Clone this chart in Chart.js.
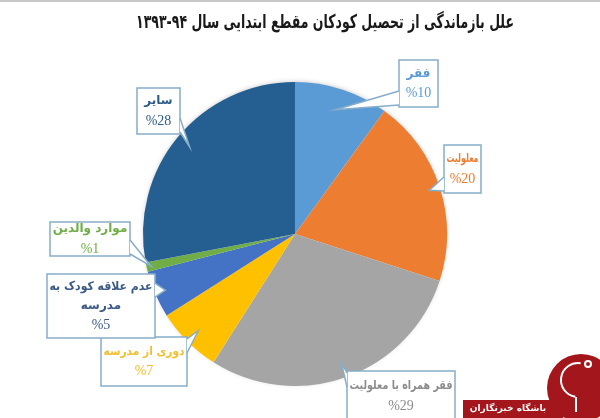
<!DOCTYPE html>
<html lang="fa">
<head>
<meta charset="utf-8">
<script src="https://cdn.jsdelivr.net/npm/chart.js@4/dist/chart.umd.min.js"></script>
<style>
  html, body { margin: 0; padding: 0; background: #fff; }
  #wrap { width: 600px; height: 418px; position: relative; border-top: 2px solid #c8c8c8; box-sizing: border-box; }
  canvas { display: block; }
</style>
</head>
<body>
<div id="wrap"><canvas id="pie" width="600" height="416"></canvas></div>
<script>
// ── Daten ───────────────────────────────────────────────────────────────────
// Zahlenfolge bewusst so: im RTL-Kontext wird "۹۴-۱۳۹۳" als ۱۳۹۳-۹۴ angezeigt.
const TITLE = 'علل بازماندگی از تحصیل کودکان مقطع ابتدایی سال ۹۴-۱۳۹۳';
const LABELS = ['فقر', 'معلولیت', 'فقر همراه با معلولیت', 'دوری از مدرسه',
                'عدم علاقه کودک به مدرسه', 'موارد والدین', 'سایر'];
const VALUES = [10, 20, 29, 7, 5, 1, 28];
const COLORS = ['#5b9bd5', '#ed7d31', '#a5a5a5', '#ffc000', '#4472c4', '#70ad47', '#255e91'];
const TEXT_COLORS = ['#5b9bd5', '#ed7d31', '#8c8c8c', '#f0c030', '#3c5a86', '#70ad47', '#2e5c8a'];
// Zeilen im Kasten (Beschriftung kann umbrechen)
const LINES = [['فقر'], ['معلولیت'], ['فقر همراه با معلولیت'], ['دوری از مدرسه'],
               ['عدم علاقه کودک به', 'مدرسه'], ['موارد والدین'], ['سایر']];

// ── Layout der Beschriftungskaesten (x, y, w, h, Spitzenradius) ─────────────
const BOXES = [
  [399, 58, 39, 47, 0.86],
  [444, 143, 37, 48, 0.93],
  [347, 369, 108, 50, 0.9],
  [101, 335, 86, 49, 0.9],
  [47, 272, 108, 64, 0.93],
  [50, 220, 80, 34, 0.97],
  [137, 86, 43, 46, 0.9],
];

const callouts = {
  id: 'callouts',
  afterDatasetsDraw(ch) {
    const { ctx } = ch;
    const meta = ch.getDatasetMeta(0);
    meta.data.forEach((arc, i) => {
      const [bx, by, bw, bh, rf] = BOXES[i];
      const mid = (arc.startAngle + arc.endAngle) / 2;
      const tx = arc.x + Math.cos(mid) * arc.outerRadius * rf;
      const ty = arc.y + Math.sin(mid) * arc.outerRadius * rf;
      // Basis der Spitze: naechster Punkt auf dem Kastenrand
      const cx = Math.min(Math.max(tx, bx), bx + bw);
      const cy = Math.min(Math.max(ty, by), by + bh);
      const dl = Math.abs(cx - bx), dr = Math.abs(cx - bx - bw), dt = Math.abs(cy - by), db = Math.abs(cy - by - bh);
      const m = Math.min(dl, dr, dt, db);
      let b1, b2;
      const hw = 7;
      if (m === dl || m === dr) {
        const x = m === dl ? bx : bx + bw;
        const y = Math.min(Math.max(cy, by + hw + 2), by + bh - hw - 2);
        b1 = [x, y - hw]; b2 = [x, y + hw];
      } else {
        const y = m === dt ? by : by + bh;
        const x = Math.min(Math.max(cx, bx + hw + 2), bx + bw - hw - 2);
        b1 = [x - hw, y]; b2 = [x + hw, y];
      }
      ctx.save();
      ctx.lineWidth = 1.5;
      ctx.strokeStyle = '#86adc9';
      ctx.fillStyle = '#fff';
      ctx.fillRect(bx, by, bw, bh);
      ctx.strokeRect(bx, by, bw, bh);
      ctx.beginPath();
      ctx.moveTo(b1[0], b1[1]); ctx.lineTo(tx, ty); ctx.lineTo(b2[0], b2[1]);
      ctx.closePath();
      ctx.fill();
      ctx.beginPath();
      ctx.moveTo(b1[0], b1[1]); ctx.lineTo(tx, ty); ctx.lineTo(b2[0], b2[1]);
      ctx.stroke();
      // Text
      const lines = LINES[i];
      const n = lines.length + 1;
      const lh = n > 2 ? 19 : 20;
      const y0 = by + bh / 2 - (n - 1) * lh / 2;
      ctx.textAlign = 'center';
      ctx.textBaseline = 'middle';
      ctx.fillStyle = TEXT_COLORS[i];
      ctx.direction = 'rtl';
      ctx.font = 'bold 12px "DejaVu Sans"';
      lines.forEach((t, k) => ctx.fillText(t, bx + bw / 2, y0 + k * lh, bw - 5));
      ctx.direction = 'ltr';
      ctx.font = '14px "Liberation Serif"';
      ctx.fillText('%' + VALUES[i], bx + bw / 2, y0 + lines.length * lh);
      ctx.restore();
    });
  },
};

const deco = {
  id: 'deco',
  beforeDatasetsDraw(ch) {
    // leichter Schatten unter dem Kreis
    const { ctx } = ch;
    const a = ch.getDatasetMeta(0).data[0];
    ctx.save();
    ctx.shadowColor = 'rgba(0,0,0,.25)';
    ctx.shadowBlur = 5;
    ctx.shadowOffsetY = -1;
    ctx.fillStyle = '#fff';
    ctx.beginPath();
    ctx.arc(a.x, a.y, a.outerRadius - 1, 0, Math.PI * 2);
    ctx.fill();
    ctx.restore();
  },
  afterDraw(ch) {
    const { ctx } = ch;
    ctx.save();
    ctx.fillStyle = '#1a1a1a';
    ctx.direction = 'rtl';
    ctx.textAlign = 'center';
    ctx.textBaseline = 'middle';
    ctx.font = 'bold 19px "DejaVu Sans"';
    ctx.fillText(TITLE, 325, 21, 378);
    // Logo unten rechts
    ctx.fillStyle = '#a3161c';
    ctx.fillRect(463, 398, 100, 18);
    ctx.beginPath();
    ctx.arc(581, 386, 34, 0, Math.PI * 2);
    ctx.fill();
    ctx.strokeStyle = '#fff';
    ctx.lineWidth = 2;
    ctx.beginPath();
    ctx.arc(578, 378, 17, Math.PI * 0.55, Math.PI * 1.55);
    ctx.stroke();
    ctx.beginPath();
    ctx.moveTo(576, 395); ctx.lineTo(576, 410);
    ctx.stroke();
    ctx.beginPath();
    ctx.arc(588, 362, 3, 0, Math.PI * 2);
    ctx.stroke();
    ctx.fillStyle = '#fff';
    ctx.font = 'bold 9px "DejaVu Sans"';
    ctx.fillText('باشگاه خبرنگاران', 508, 407);
    ctx.restore();
  },
};

new Chart(document.getElementById('pie'), {
  type: 'pie',
  data: {
    labels: LABELS,
    datasets: [{ data: VALUES, backgroundColor: COLORS, borderWidth: 0 }],
  },
  options: {
    responsive: false, animation: false,
    layout: { padding: { left: 143, right: 153, top: 80, bottom: 32 } },
    plugins: { legend: { display: false }, tooltip: { enabled: false }, title: { display: false } },
  },
  plugins: [deco, callouts],
});
</script>
</body>
</html>
